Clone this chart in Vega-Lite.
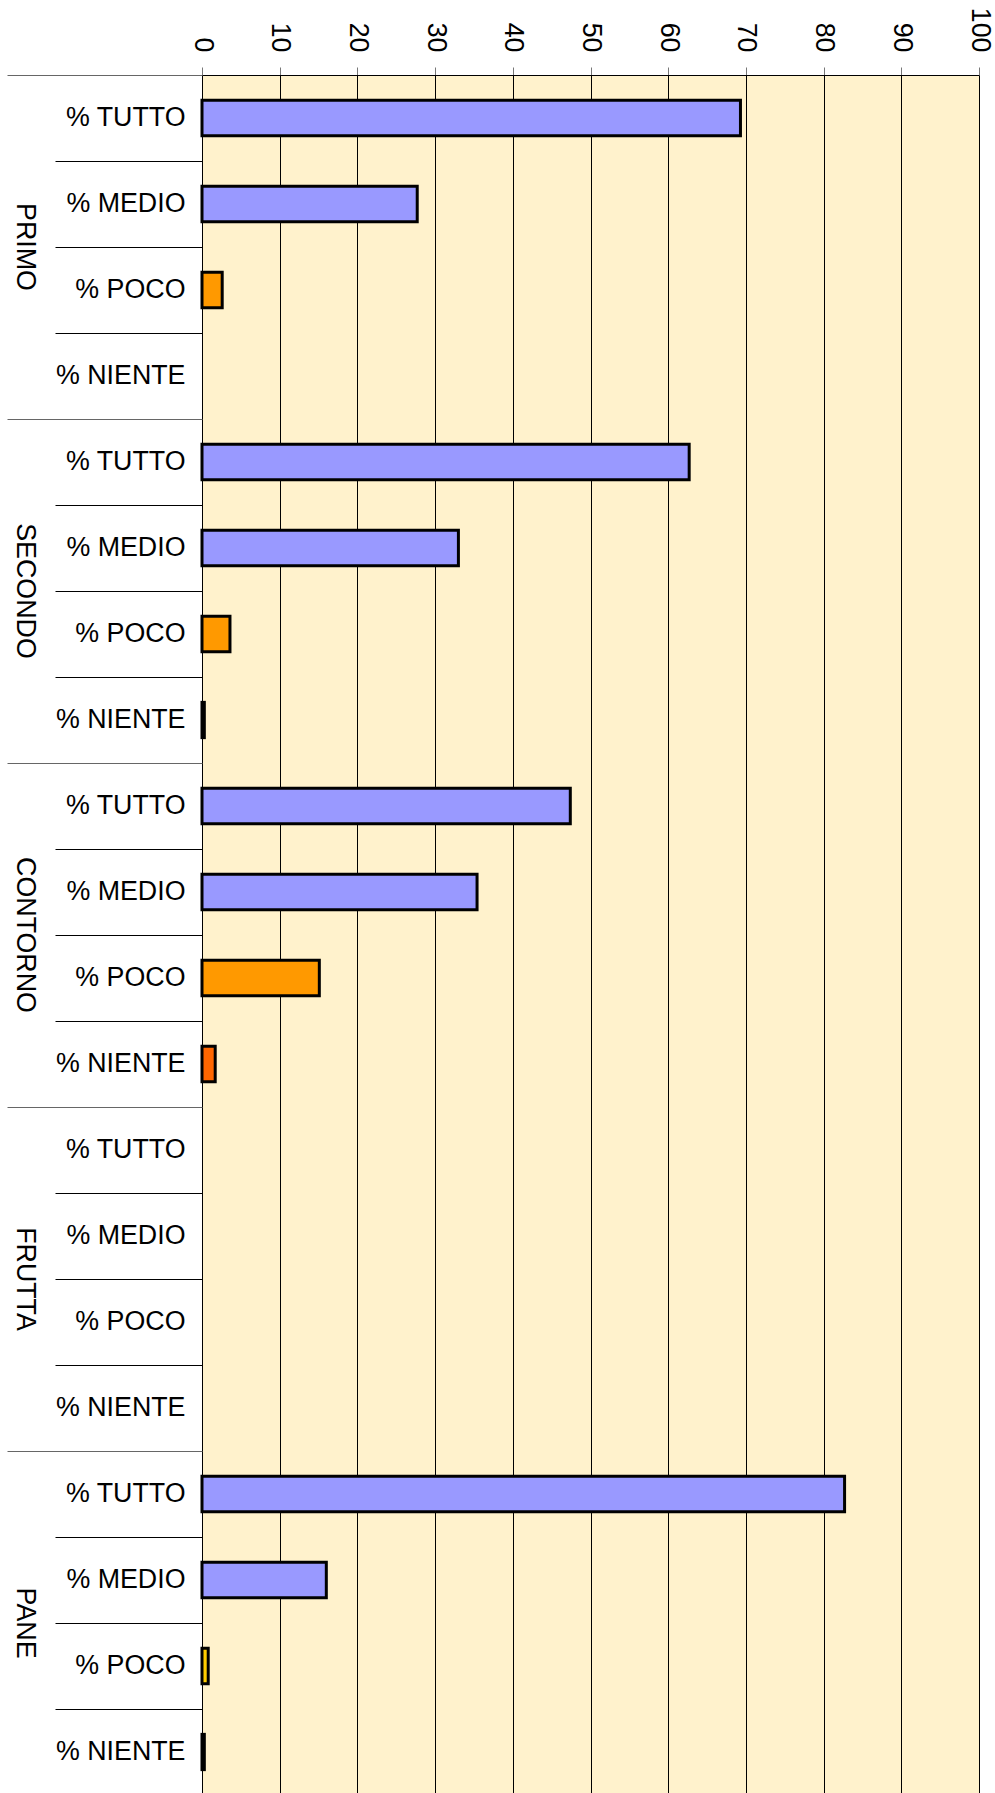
{
  "$schema": "https://vega.github.io/schema/vega-lite/v6.json",
  "width": 777,
  "height": 1720,
  "autosize": {"type": "none"},
  "padding": {"left": 202, "top": 75, "right": 16, "bottom": 0},
  "background": "white",
  "config": {
    "view": {"fill": "#FFF2CC", "stroke": null},
    "font": "Liberation Sans",
    "axis": {"labelFont": "Liberation Sans", "labelFontSize": 26.8, "labelColor": "black", "title": null, "labelOverlap": false, "labelLimit": 300}
  },
  "data": {
    "values": [
      {"riga": "PRIMO|% TUTTO", "pct": 69.3},
      {"riga": "PRIMO|% MEDIO", "pct": 27.7},
      {"riga": "PRIMO|% POCO", "pct": 2.6},
      {"riga": "PRIMO|% NIENTE", "pct": null},
      {"riga": "SECONDO|% TUTTO", "pct": 62.7},
      {"riga": "SECONDO|% MEDIO", "pct": 33.0},
      {"riga": "SECONDO|% POCO", "pct": 3.6},
      {"riga": "SECONDO|% NIENTE", "pct": 0.3},
      {"riga": "CONTORNO|% TUTTO", "pct": 47.4},
      {"riga": "CONTORNO|% MEDIO", "pct": 35.4},
      {"riga": "CONTORNO|% POCO", "pct": 15.1},
      {"riga": "CONTORNO|% NIENTE", "pct": 1.7},
      {"riga": "FRUTTA|% TUTTO", "pct": null},
      {"riga": "FRUTTA|% MEDIO", "pct": null},
      {"riga": "FRUTTA|% POCO", "pct": null},
      {"riga": "FRUTTA|% NIENTE", "pct": null},
      {"riga": "PANE|% TUTTO", "pct": 82.7},
      {"riga": "PANE|% MEDIO", "pct": 16.0},
      {"riga": "PANE|% POCO", "pct": 0.8},
      {"riga": "PANE|% NIENTE", "pct": 0.3}
    ]
  },
  "layer": [
    {
      "mark": {"type": "bar", "height": {"band": 0.41}, "stroke": "black", "strokeWidth": 3},
      "encoding": {
        "y": {
          "field": "riga", "type": "nominal",
          "scale": {
            "domain": ["PRIMO|% TUTTO", "PRIMO|% MEDIO", "PRIMO|% POCO", "PRIMO|% NIENTE", "SECONDO|% TUTTO", "SECONDO|% MEDIO", "SECONDO|% POCO", "SECONDO|% NIENTE", "CONTORNO|% TUTTO", "CONTORNO|% MEDIO", "CONTORNO|% POCO", "CONTORNO|% NIENTE", "FRUTTA|% TUTTO", "FRUTTA|% MEDIO", "FRUTTA|% POCO", "FRUTTA|% NIENTE", "PANE|% TUTTO", "PANE|% MEDIO", "PANE|% POCO", "PANE|% NIENTE"],
            "paddingInner": 0, "paddingOuter": 0
          },
          "axis": {
            "orient": "left", "ticks": false, "domain": true, "domainColor": "black", "domainWidth": 1,
            "labelPadding": 17, "labelAlign": "right", "labelBaseline": "middle",
            "labelExpr": "split(datum.label, '|')[1]"
          }
        },
        "x": {
          "field": "pct", "type": "quantitative",
          "scale": {"domain": [0, 100], "nice": false},
          "axis": {
            "orient": "top", "values": [0, 10, 20, 30, 40, 50, 60, 70, 80, 90, 100],
            "grid": true, "gridColor": "black", "gridWidth": 1,
            "tickSize": 8, "tickColor": "#777777", "domainColor": "black",
            "labelAngle": 90, "labelAlign": "right", "labelBaseline": "middle", "labelPadding": 15
          }
        },
        "color": {
          "field": "riga", "type": "nominal", "legend": null,
          "scale": {
            "domain": ["PRIMO|% TUTTO", "PRIMO|% MEDIO", "PRIMO|% POCO", "SECONDO|% TUTTO", "SECONDO|% MEDIO", "SECONDO|% POCO", "SECONDO|% NIENTE", "CONTORNO|% TUTTO", "CONTORNO|% MEDIO", "CONTORNO|% POCO", "CONTORNO|% NIENTE", "PANE|% TUTTO", "PANE|% MEDIO", "PANE|% POCO", "PANE|% NIENTE"],
            "range": ["#9999FF", "#9999FF", "#FF9900", "#9999FF", "#9999FF", "#FF9900", "#FF6600", "#9999FF", "#9999FF", "#FF9900", "#FF6600", "#9999FF", "#9999FF", "#FFCC00", "#FF6600"]
          }
        }
      }
    },
    {
      "mark": {"type": "point", "opacity": 0},
      "encoding": {
        "y": {
          "field": "riga", "type": "nominal",
          "axis": {
            "orient": "left", "labels": false, "domain": false, "bandPosition": 0,
            "tickSize": 147, "tickColor": "black", "tickWidth": 1,
            "tickOpacity": {"condition": {"test": "indexof(datum.value, '% TUTTO') >= 0", "value": 0}, "value": 1}
          }
        }
      }
    },
    {
      "mark": {"type": "point", "opacity": 0},
      "encoding": {
        "y": {
          "field": "riga", "type": "nominal",
          "axis": {
            "orient": "left", "domain": false, "bandPosition": 0,
            "tickSize": 195, "tickColor": "#666666", "tickWidth": 1,
            "tickOpacity": {"condition": {"test": "indexof(datum.value, '% TUTTO') >= 0", "value": 1}, "value": 0},
            "labelExpr": "indexof(datum.label, '% POCO') >= 0 ? split(datum.label, '|')[0] : ''",
            "labelAngle": 90, "labelAlign": "center", "labelBaseline": "middle",
            "labelPadding": -17, "labelOffset": -43
          }
        }
      }
    }
  ],
  "resolve": {"axis": {"y": "independent"}}
}
